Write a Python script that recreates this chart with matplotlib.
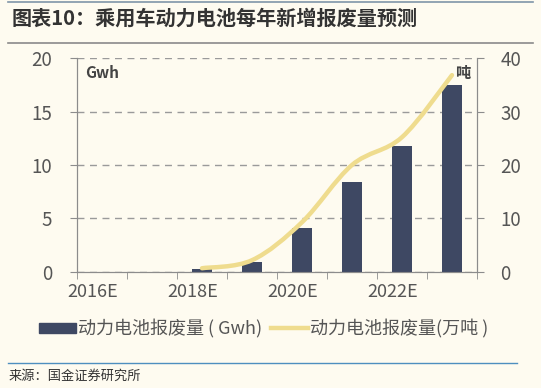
import matplotlib.pyplot as plt
import matplotlib.transforms as mtransforms
import numpy as np
from matplotlib.path import Path
from matplotlib.patches import PathPatch, Patch
from matplotlib.lines import Line2D

plt.rcParams['font.family'] = ['Noto Sans CJK SC', 'DejaVu Sans']

years = ['2016E', '2017E', '2018E', '2019E', '2020E', '2021E', '2022E', '2023E']
gwh = [0.0, 0.0, 0.3, 0.9, 4.1, 8.4, 11.8, 17.5]
# 万吨, line starts in 2018
tons_idx = [2, 3, 4, 5, 6, 7]
tons = [0.7, 2.2, 9.3, 20.0, 25.2, 36.8]

bg = '#FEFBF0'
bar_c = '#3E4863'
line_c = '#EFDC8E'
grey = '#8C8C8C'

fig = plt.figure(figsize=(5.41, 3.88), dpi=100, facecolor=bg)
ax = fig.add_axes([0.1423, 0.299, 0.7394, 0.5515])
ax.set_facecolor(bg)
ax2 = ax.twinx()

x = np.arange(len(years))
ax.bar(x, gwh, width=0.4, color=bar_c, zorder=3)

ax.set_xlim(-0.5, len(years) - 0.5)
ax.set_ylim(0, 20)
ax.set_yticks([0, 5, 10, 15, 20])
ax2.set_ylim(0, 40)
ax2.set_yticks([0, 10, 20, 30, 40])

# smoothed line (Catmull-Rom -> bezier), like Excel's smoothed series
px = np.array(tons_idx, dtype=float)
py = np.array(tons, dtype=float)
verts = [(px[0], py[0])]
codes = [Path.MOVETO]
n = len(px)
for i in range(n - 1):
    p0 = (px[i - 1], py[i - 1]) if i > 0 else (px[i], py[i])
    p1 = (px[i], py[i])
    p2 = (px[i + 1], py[i + 1])
    p3 = (px[i + 2], py[i + 2]) if i + 2 < n else (px[i + 1], py[i + 1])
    c1 = (p1[0] + (p2[0] - p0[0]) / 6, p1[1] + (p2[1] - p0[1]) / 6)
    c2 = (p2[0] - (p3[0] - p1[0]) / 6, p2[1] - (p3[1] - p1[1]) / 6)
    verts += [c1, c2, p2]
    codes += [Path.CURVE4] * 3
ax2.add_patch(PathPatch(Path(verts, codes), facecolor='none', edgecolor=line_c,
                        lw=3.2, capstyle='round', zorder=4))

ax.yaxis.grid(True, linestyle=(0, (5, 4)), color='#9A9A9A', lw=1.0, zorder=0)
ax.set_axisbelow(True)

ax.set_xticks(x[::2])
ax.set_xticklabels(years[::2])
ax.set_xticks(np.arange(-0.5, len(years), 1), minor=True)
ax.tick_params(axis='x', which='major', length=0, pad=8)
ax.tick_params(axis='x', which='minor', length=5, color=grey)
# labels sit a little left of the category centres in the original
shift = mtransforms.ScaledTranslation(-9 / 100, 0, fig.dpi_scale_trans)
for lab in ax.get_xticklabels():
    lab.set_transform(lab.get_transform() + shift)

for a in (ax, ax2):
    for s in a.spines.values():
        s.set_color(grey)
    a.spines['top'].set_visible(False)
    a.tick_params(axis='y', length=5, color=grey, labelsize=13.5, labelcolor='#555555')
ax.tick_params(axis='x', labelsize=13, labelcolor='#555555')
ax.tick_params(axis='y', pad=13)
ax2.tick_params(axis='y', pad=12)

ax.text(0.02, 0.93, 'Gwh', transform=ax.transAxes, fontsize=11, fontweight='bold',
        color='#444444', va='center')
ax2.text(0.965, 0.93, '吨', transform=ax.transAxes, fontsize=11, fontweight='bold',
         color='#444444', va='center', ha='center')

handles = [Patch(color=bar_c), Line2D([], [], color=line_c, lw=3.2)]
fig.legend(handles, ['动力电池报废量 ( Gwh)', '动力电池报废量(万吨 )'], loc='center',
           bbox_to_anchor=(0.488, 0.153), ncol=2, frameon=False, fontsize=13,
           labelcolor='#555555', handlelength=2.0, handleheight=0.45,
           handletextpad=0.15, columnspacing=0.5)

# title bar
fig.text(0.022, 0.953, '图表10：乘用车动力电池每年新增报废量预测', fontsize=14.5,
         fontweight='bold', style='italic', color='#333333', va='center')
fig.add_artist(Line2D([0.015, 0.985], [0.995, 0.995], color='#7F95A8', lw=1.2))
fig.add_artist(Line2D([0.015, 0.985], [0.89, 0.89], color='#8A8A8A', lw=1.2))
fig.add_artist(Line2D([0.015, 0.955], [0.064, 0.064], color='#4E8FBF', lw=1.0))
fig.text(0.015, 0.03, '来源：国金证券研究所', fontsize=9.5, color='#333333', va='center')

fig.savefig('out.png', dpi=100, facecolor=bg)
